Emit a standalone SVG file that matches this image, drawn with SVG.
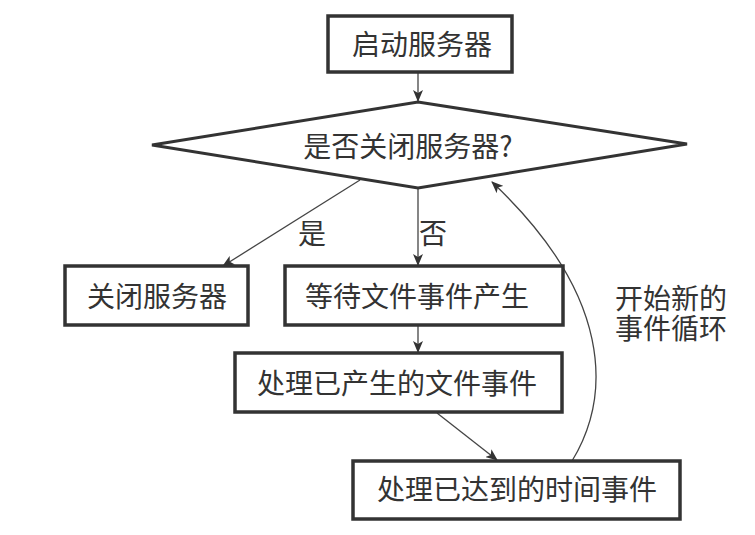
<svg xmlns="http://www.w3.org/2000/svg" width="755" height="535" viewBox="0 0 755 535">
<defs>
<style>
.box{fill:#fff;stroke:#333;stroke-width:3.5}
.dia{fill:#fff;stroke:#333;stroke-width:3}
.t{font-family:"Noto Sans CJK SC","Noto Sans",sans-serif;font-size:28px;fill:#333;text-anchor:middle;dominant-baseline:central}
.c{fill:none;stroke:#444;stroke-width:1.3}
</style>
<marker id="ah" viewBox="0 0 12 10" refX="11" refY="5" markerWidth="12" markerHeight="10" markerUnits="userSpaceOnUse" orient="auto">
<path d="M0,0 L12,5 L0,10 L3,5 Z" fill="#333"/>
</marker>
</defs>
<rect width="755" height="535" fill="#fff"/>
<g id="connectors">
<line class="c" x1="418" y1="72" x2="418" y2="101" marker-end="url(#ah)"/>
<line class="c" x1="360" y1="180" x2="223" y2="266" marker-end="url(#ah)"/>
<line class="c" x1="418" y1="188" x2="418" y2="265" marker-end="url(#ah)"/>
<line class="c" x1="418" y1="325" x2="418" y2="352" marker-end="url(#ah)"/>
<line class="c" x1="437" y1="413" x2="497" y2="460" marker-end="url(#ah)"/>
<path class="c" d="M572,461 C612,395 612,295 492,182" marker-end="url(#ah)"/>
<text class="t" x="312" y="232">是</text>
<text class="t" x="433" y="232">否</text>
<text class="t" x="671" y="297"><tspan x="671">开始新的</tspan><tspan x="671" dy="30">事件循环</tspan></text>
</g>
<g id="start">
<rect class="box" x="328" y="16" width="184" height="56"/>
<text class="t" x="422" y="43">启动服务器</text>
</g>
<g id="decision">
<polygon class="dia" points="152,145 418,102 687,144 418,188"/>
<text class="t" x="408" y="145">是否关闭服务器?</text>
</g>
<g id="close">
<rect class="box" x="65" y="266" width="183" height="59"/>
<text class="t" x="157" y="295">关闭服务器</text>
</g>
<g id="wait">
<rect class="box" x="285" y="266" width="278" height="59"/>
<text class="t" x="417" y="295">等待文件事件产生</text>
</g>
<g id="fileev">
<rect class="box" x="235" y="353" width="327" height="59"/>
<text class="t" x="397" y="382">处理已产生的文件事件</text>
</g>
<g id="timeev">
<rect class="box" x="353" y="461" width="327" height="58"/>
<text class="t" x="517" y="488">处理已达到的时间事件</text>
</g>
</svg>
